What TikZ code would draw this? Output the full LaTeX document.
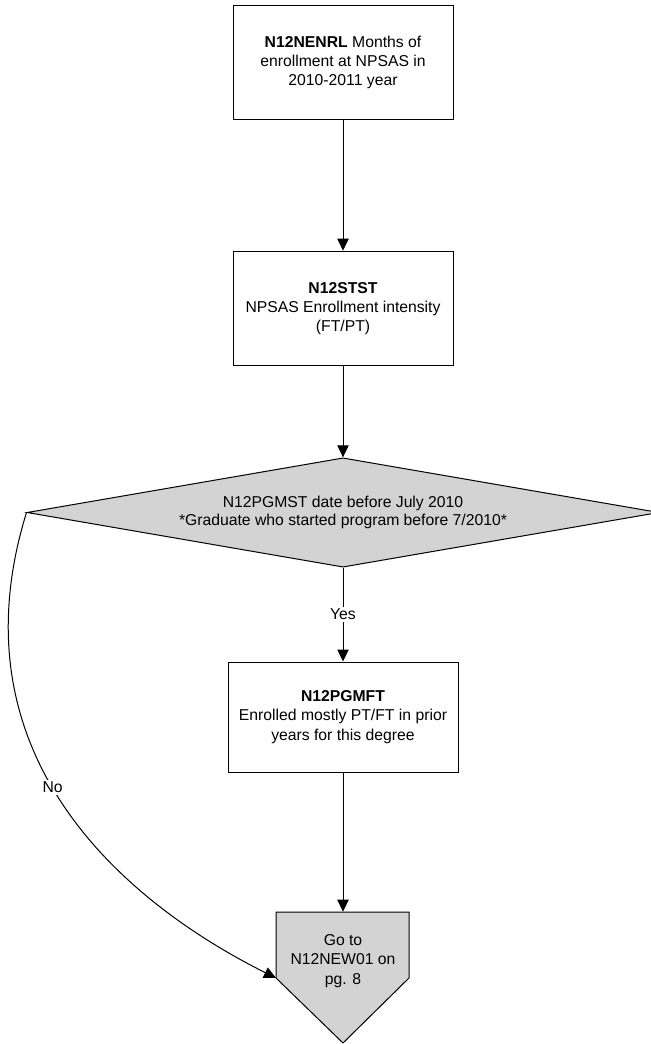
\documentclass[tikz,border=0pt]{standalone}
\usepackage{fontspec}
\setmainfont{Liberation Sans}
\usetikzlibrary{shapes.geometric}
\usetikzlibrary{arrows.meta}
\usetikzlibrary{backgrounds}

\definecolor{decgray}{RGB}{211,211,211}
\tikzset{
  varbox/.style={draw, line width=.75pt, fill=white, align=center, inner sep=0pt,
    minimum width=165pt, minimum height=86pt, font=\fontsize{11.8}{14.5}\selectfont},
  decbox/.style={draw, diamond, line width=.75pt, fill=decgray, align=center, inner sep=0pt,
    aspect=5.8, minimum width=474pt, minimum height=82pt, font=\fontsize{11.8}{13}\selectfont},
  gotobox/.style={align=center, inner sep=0pt, minimum width=100pt, minimum height=73.5pt,
    font=\fontsize{11.8}{14.5}\selectfont},
  flow/.style={-{Triangle[width=8.5pt,length=9pt]}, line width=.75pt},
  answer/.style={fill=white, inner sep=1.5pt, font=\fontsize{11.8}{13}\selectfont}
}

\begin{document}
\begin{tikzpicture}[x=.75pt, y=.75pt]
\useasboundingbox (0,0) rectangle (650,-1044);
\node[varbox] (enrl) at (343,-62.5) {\textbf{N12NENRL} Months of\\enrollment at NPSAS in\\2010-2011 year};
\node[varbox] (stst) at (343,-308.5) {\textbf{N12STST}\\NPSAS Enrollment intensity\\(FT/PT)};
\node[decbox] (pgmst) at (343,-512.5) {N12PGMST date before July 2010\\*Graduate who started program before 7/2010*};
\node[varbox, minimum width=172.5pt, minimum height=82.5pt] (pgmft) at (343,-717) {\textbf{N12PGMFT}\\Enrolled mostly PT/FT in prior\\years for this degree};
\node[gotobox] (goto) at (343,-961) {Go to\\N12NEW01 on\\pg. 8};
\coordinate (gotoshoulder) at (276,-978);
\begin{scope}[on background layer]
\draw[line width=.75pt, fill=decgray] (276,-912) -- (409,-912) -- (409,-978) -- (343,-1043) -- (276,-978) -- cycle;
\end{scope}
\draw[flow] (enrl) -- (stst);
\draw[flow] (stst) -- (pgmst);
\draw[flow] (pgmst) -- node[answer] {Yes} (pgmft);
\draw[flow] (pgmft) -- (goto);
\draw[flow] (pgmst.west) .. controls (-50,-760) and (130,-905) .. node[answer, pos=.45] {No} (gotoshoulder);
\end{tikzpicture}
\end{document}
